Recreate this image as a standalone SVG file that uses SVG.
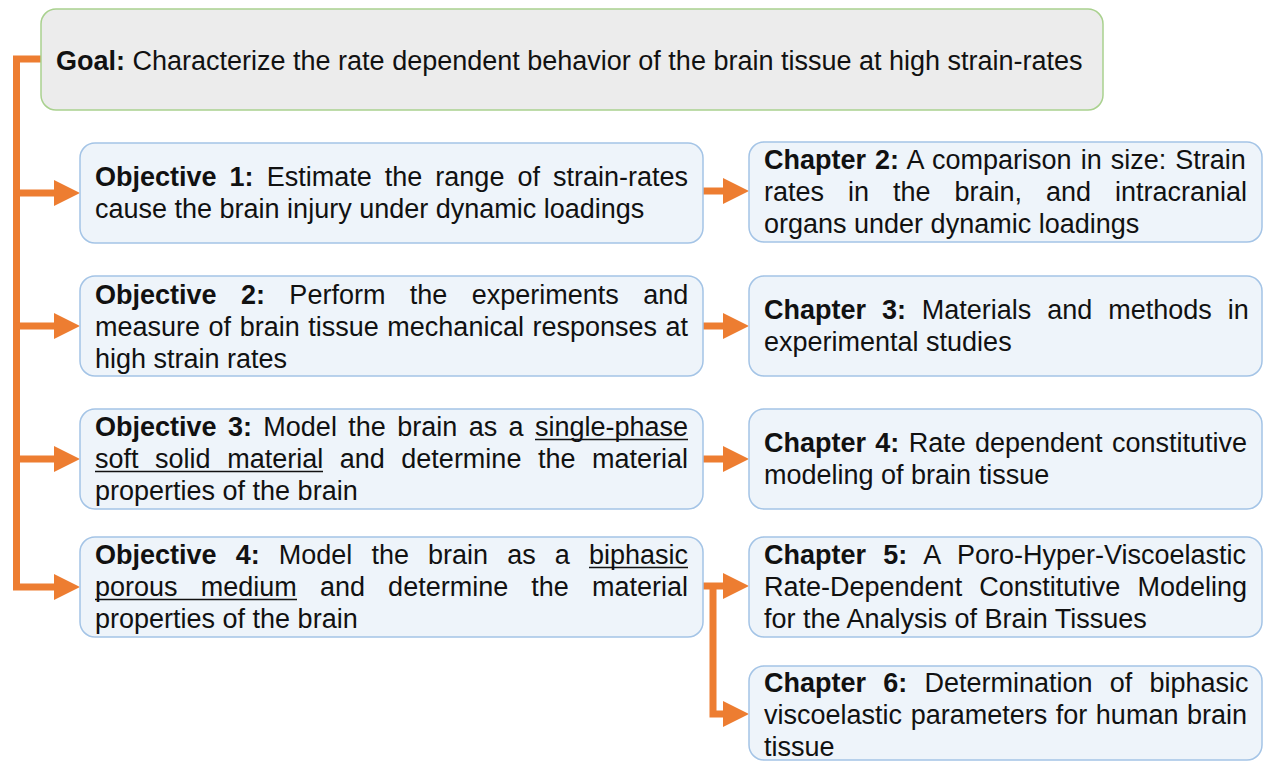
<svg xmlns="http://www.w3.org/2000/svg" width="1263" height="761" viewBox="0 0 1263 761">
<defs>
<style>
.goal{fill:#ececec;stroke:#a9d18e;stroke-width:1.5}
.box{fill:#eef4fa;stroke:#a4c4e6;stroke-width:1.5}
text{font-family:"Liberation Sans",Arial,sans-serif;font-size:27px;fill:#111}
.b{font-weight:bold}
.conn{fill:none;stroke:#ed7d31;stroke-width:7;stroke-linejoin:miter}
.ul{stroke:#111;stroke-width:1.5}
</style>
<marker id="ah" markerUnits="userSpaceOnUse" viewBox="0 0 26 26" refX="0" refY="13" markerWidth="26" markerHeight="26" orient="auto">
<path d="M0,0 L26,13 L0,26 z" fill="#ed7d31"/>
</marker>
</defs>

<g id="connectors">
<path class="conn" d="M41,59 H16.5 V587 H54" marker-end="url(#ah)"/>
<path class="conn" d="M16.5,193 H54" marker-end="url(#ah)"/>
<path class="conn" d="M16.5,326 H54" marker-end="url(#ah)"/>
<path class="conn" d="M16.5,459 H54" marker-end="url(#ah)"/>
<path class="conn" d="M703,191 H723" marker-end="url(#ah)"/>
<path class="conn" d="M703,326 H723" marker-end="url(#ah)"/>
<path class="conn" d="M703,459 H723" marker-end="url(#ah)"/>
<path class="conn" d="M703,586 H723" marker-end="url(#ah)"/>
<path class="conn" d="M713,586 V714 H723" marker-end="url(#ah)"/>
</g>

<g id="goal">
<rect class="goal" x="41" y="9" width="1062" height="101" rx="15"/>
<text x="56" y="70"><tspan class="b">Goal:</tspan> Characterize the rate dependent behavior of the brain tissue at high strain-rates</text>
</g>

<g id="objective1">
<rect class="box" x="80" y="143" width="623" height="100" rx="15"/>
<text x="95" y="186" word-spacing="5.55"><tspan class="b">Objective 1:</tspan> Estimate the range of strain-rates</text>
<text x="95" y="218">cause the brain injury under dynamic loadings</text>
</g>

<g id="objective2">
<rect class="box" x="80" y="276" width="623" height="100" rx="15"/>
<text x="95" y="304" word-spacing="16.9"><tspan class="b">Objective 2:</tspan> Perform the experiments and</text>
<text x="95" y="336" word-spacing="1.05">measure of brain tissue mechanical responses at</text>
<text x="95" y="368">high strain rates</text>
</g>

<g id="objective3">
<rect class="box" x="80" y="409" width="623" height="100" rx="15"/>
<text x="95" y="436" word-spacing="3.89"><tspan class="b">Objective 3:</tspan> Model the brain as a single-phase</text>
<text x="95" y="468" word-spacing="9.05">soft solid material and determine the material</text>
<text x="95" y="500">properties of the brain</text>
<line class="ul" x1="535" y1="439.5" x2="688" y2="439.5"/>
<line class="ul" x1="95" y1="471.5" x2="323" y2="471.5"/>
</g>

<g id="objective4">
<rect class="box" x="80" y="537" width="623" height="100" rx="15"/>
<text x="95" y="564" word-spacing="11.6"><tspan class="b">Objective 4:</tspan> Model the brain as a biphasic</text>
<text x="95" y="596" word-spacing="15.66">porous medium and determine the material</text>
<text x="95" y="628">properties of the brain</text>
<line class="ul" x1="589" y1="567.5" x2="688" y2="567.5"/>
<line class="ul" x1="95" y1="599.5" x2="297" y2="599.5"/>
</g>

<g id="chapter2">
<rect class="box" x="749" y="142" width="513" height="100" rx="15"/>
<text x="764" y="169" word-spacing="1.5"><tspan class="b">Chapter 2:</tspan> A comparison in size: Strain</text>
<text x="764" y="201" word-spacing="16.46">rates in the brain, and intracranial</text>
<text x="764" y="233">organs under dynamic loadings</text>
</g>

<g id="chapter3">
<rect class="box" x="749" y="276" width="513" height="100" rx="15"/>
<text x="764" y="319" word-spacing="8.4"><tspan class="b">Chapter 3:</tspan> Materials and methods in</text>
<text x="764" y="351">experimental studies</text>
</g>

<g id="chapter4">
<rect class="box" x="749" y="409" width="513" height="100" rx="15"/>
<text x="764" y="452" word-spacing="1.8"><tspan class="b">Chapter 4:</tspan> Rate dependent constitutive</text>
<text x="764" y="484">modeling of brain tissue</text>
</g>

<g id="chapter5">
<rect class="box" x="749" y="537" width="513" height="100" rx="15"/>
<text x="764" y="564" word-spacing="9.8"><tspan class="b">Chapter 5:</tspan> A Poro-Hyper-Viscoelastic</text>
<text x="764" y="596" word-spacing="9.65">Rate-Dependent Constitutive Modeling</text>
<text x="764" y="628">for the Analysis of Brain Tissues</text>
</g>

<g id="chapter6">
<rect class="box" x="749" y="666" width="513" height="94" rx="15"/>
<text x="764" y="692" word-spacing="9.7"><tspan class="b">Chapter 6:</tspan> Determination of biphasic</text>
<text x="764" y="724" word-spacing="1.08">viscoelastic parameters for human brain</text>
<text x="764" y="756">tissue</text>
</g>
</svg>
